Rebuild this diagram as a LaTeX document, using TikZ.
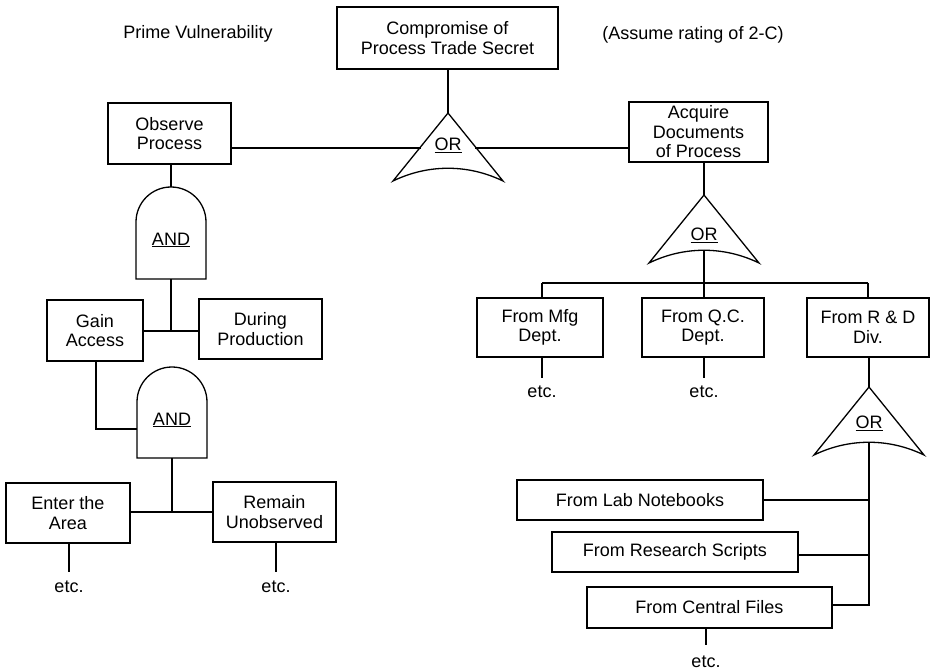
\documentclass[tikz,border=0pt]{standalone}
\usepackage{fontspec}
\setmainfont{Liberation Sans}
\begin{document}
\begin{tikzpicture}[x=1pt,y=-1pt,line width=1.3pt,
  every node/.style={font=\fontsize{18}{19.5}\selectfont},
  evbox/.style={draw,align=center,inner sep=0pt},
  lbl/.style={inner sep=0pt}]
\useasboundingbox (0,0) rectangle (930,671);
\newcommand\orgate[4]{% name, x, apex y, label y
  \draw (#2,#3) -- ({#2-55},{#3+68}) .. controls ({#2-20},{#3+51}) and ({#2+20},{#3+51}) .. ({#2+55},{#3+68}) -- cycle;
  \coordinate (#1top) at (#2,#3);
  \coordinate (#1base) at (#2,{#3+55});
  \node[lbl] (#1lbl) at (#2,#4) {\underline{OR}};}
\newcommand\andgate[4]{% name, x, top y, bottom y
  \draw ({#2-35},#4) -- ({#2-35},{#3+35}) arc[start angle=180,end angle=360,radius=35] -- ({#2+35},#4) -- cycle;
  \coordinate (#1top) at (#2,#3);
  \coordinate (#1bot) at (#2,#4);
  \node[lbl] (#1lbl) at (#2,{#3+53}) {\underline{AND}};}

% free texts
\node[lbl] (prime) at (198,34) {Prime Vulnerability};
\node[lbl] (assume) at (693,35) {(Assume rating of 2-C)};

% boxes
\node[evbox,minimum width=221pt,minimum height=62pt] (top) at (447.5,38) {Compromise of\\Process Trade Secret};
\node[evbox,minimum width=123pt,minimum height=61pt] (observe) at (169.5,133.5) {Observe\\Process};
\node[evbox,minimum width=139pt,minimum height=60pt] (acquire) at (698.5,132) {Acquire\\Documents\\of Process};
\node[evbox,minimum width=96pt,minimum height=61pt] (gain) at (95,330.5) {Gain\\Access};
\node[evbox,minimum width=123pt,minimum height=60pt] (during) at (260.5,329) {During\\Production};
\node[evbox,minimum width=124pt,minimum height=60pt] (enter) at (68,513) {Enter the\\Area};
\node[evbox,minimum width=123pt,minimum height=60pt] (remain) at (274.5,512) {Remain\\Unobserved};
\node[evbox,minimum width=126pt,minimum height=59pt] (mfg) at (540,327.5) {From Mfg\\Dept.};
\node[evbox,minimum width=122pt,minimum height=59pt] (qc) at (703,327.5) {From Q.C.\\Dept.};
\node[evbox,minimum width=122pt,minimum height=59pt] (rd) at (868,327.5) {From R \& D\\Div.};
\node[evbox,minimum width=246pt,minimum height=40pt] (lab) at (640,500) {From Lab Notebooks};
\node[evbox,minimum width=246pt,minimum height=40pt] (research) at (675,552) {From Research Scripts};
\node[evbox,minimum width=245pt,minimum height=41pt] (central) at (709.5,607.5) {From Central Files};

% gates
\orgate{or1}{448}{113}{145}
\orgate{or2}{704}{195}{235}
\orgate{or3}{869}{387}{423}
\andgate{and1}{171}{187}{279}
\andgate{and2}{172}{367}{458}

% etc labels
\node[lbl] (etc1) at (69,587) {etc.};
\node[lbl] (etc2) at (276,587) {etc.};
\node[lbl] (etc3) at (542,392) {etc.};
\node[lbl] (etc4) at (704,392) {etc.};
\node[lbl] (etc5) at (706,662) {etc.};

% helper coordinates
\coordinate (or1L) at (421,148);
\coordinate (or1R) at (475,148);
\coordinate (j1) at (171,331);
\coordinate (a2in) at (137,429);
\coordinate (j2) at (172,512);
\coordinate (j3) at (704,283);
\coordinate (rdbus) at (869,605);

% connectors
\draw (top.south -| or1top) -- (or1top);
\draw (observe.east |- or1L) -- (or1L);
\draw (or1R) -- (acquire.west |- or1R);
\draw (and1top |- observe.south) -- (and1top);
\draw (and1bot) -- (j1);
\draw (gain.east |- j1) -- (during.west |- j1);
\draw (96,361) -- (96,429) -- (a2in);
\draw (and2bot) -- (j2);
\draw (enter.east |- j2) -- (remain.west |- j2);
\draw (69,543) -- (69,572);
\draw (276,542) -- (276,572);
\draw (or2top |- acquire.south) -- (or2top);
\draw (or2base) -- (j3);
\draw (542,283) -- (868,283);
\draw (542,283) -- (542,298);
\draw (j3) -- (704,298);
\draw (868,283) -- (868,298);
\draw (542,357) -- (542,378);
\draw (704,357) -- (704,378);
\draw (or3top |- rd.south) -- (or3top);
\draw (or3base) -- (rdbus) -- (central.east |- rdbus);
\draw (lab.east) -- (lab.east -| rdbus);
\draw (research.east |- 0,555) -- (869,555);
\draw (706,628) -- (706,645);
\end{tikzpicture}
\end{document}
